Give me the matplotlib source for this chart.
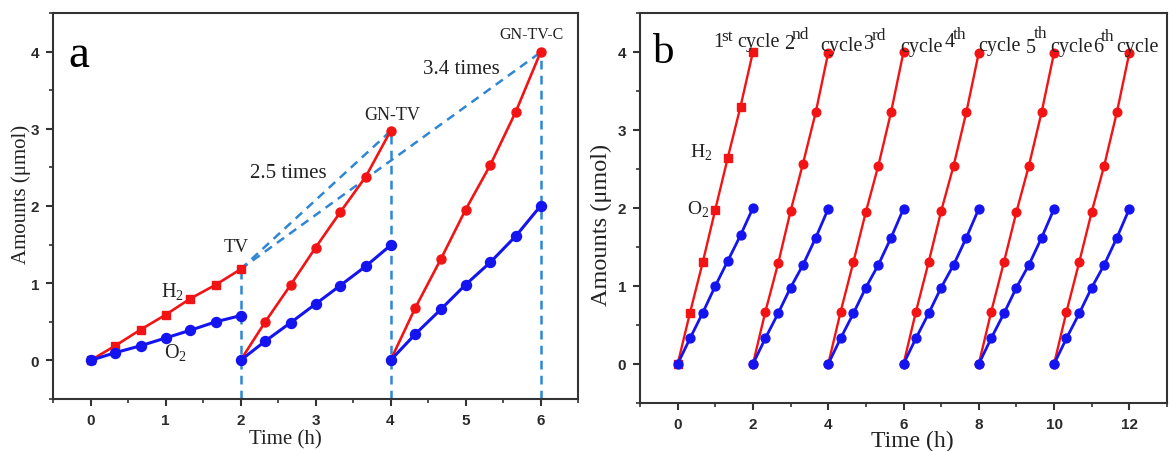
import matplotlib
matplotlib.use("Agg")
import matplotlib.pyplot as plt
from matplotlib.ticker import MultipleLocator

# ---------------- data ----------------
# Panel a
time_tv = [0.0, 0.33, 0.67, 1.0, 1.33, 1.67, 2.0]
h2_tv = [0.0, 0.19, 0.40, 0.59, 0.80, 0.98, 1.18]
o2_tv = [0.0, 0.10, 0.19, 0.29, 0.39, 0.50, 0.58]

time_gntv = [2.0, 2.33, 2.67, 3.0, 3.33, 3.67, 4.0]
h2_gntv = [0.0, 0.50, 0.98, 1.46, 1.92, 2.38, 2.97]
o2_gntv = [0.0, 0.25, 0.49, 0.73, 0.97, 1.22, 1.49]

time_gntvc = [4.0, 4.33, 4.67, 5.0, 5.33, 5.67, 6.0]
h2_gntvc = [0.0, 0.68, 1.31, 1.95, 2.53, 3.22, 3.99]
o2_gntvc = [0.0, 0.34, 0.66, 0.98, 1.27, 1.61, 2.0]

# Panel b
cycle_start = [0, 2, 4, 6, 8, 10]
cycle_time = [0.0, 0.33, 0.67, 1.0, 1.33, 1.67, 2.0]
h2_cycles = [
    [0.0, 0.66, 1.31, 1.98, 2.64, 3.30, 4.00],
    [0.0, 0.67, 1.29, 1.96, 2.57, 3.23, 3.99],
    [0.0, 0.67, 1.31, 1.95, 2.54, 3.23, 4.00],
    [0.0, 0.67, 1.31, 1.96, 2.54, 3.23, 3.99],
    [0.0, 0.67, 1.31, 1.95, 2.54, 3.23, 3.99],
    [0.0, 0.67, 1.31, 1.95, 2.54, 3.23, 3.99],
]
o2_cycles = [
    [0.0, 0.33, 0.66, 1.00, 1.32, 1.65, 2.00],
    [0.0, 0.33, 0.65, 0.98, 1.27, 1.62, 1.99],
    [0.0, 0.33, 0.65, 0.98, 1.27, 1.62, 1.99],
    [0.0, 0.33, 0.65, 0.98, 1.27, 1.62, 1.99],
    [0.0, 0.33, 0.65, 0.98, 1.27, 1.62, 1.99],
    [0.0, 0.33, 0.65, 0.98, 1.27, 1.62, 1.99],
]
cycle_numbers = ["1", "2", "3", "4", "5", "6"]
cycle_suffixes = ["st", "nd", "rd", "th", "th", "th"]

xticks_a = [0, 1, 2, 3, 4, 5, 6]
xticks_b = [0, 2, 4, 6, 8, 10, 12]
yticks = [0, 1, 2, 3, 4]

# ---------------- style ----------------
RED = "#f21414"
BLUE = "#1414f0"
DASH = "#2f86d2"
SPINE = "#333333"
SERIF = ["Liberation Serif", "DejaVu Serif"]
SANS = ["Liberation Sans", "DejaVu Sans"]

W, H = 1170, 452
fig = plt.figure(figsize=(W / 100, H / 100), dpi=100)


def ptext(x, y, s, **kw):
    kw.setdefault("family", SERIF)
    fig.text(x / W, 1 - y / H, s, **kw)


def style_axes(ax):
    for sp in ax.spines.values():
        sp.set_color(SPINE)
        sp.set_linewidth(1.5)
    ax.tick_params(which="major", direction="out", length=5, width=1.5,
                   color=SPINE, pad=5, top=False, right=False)
    ax.tick_params(which="minor", direction="out", length=3, width=1.2,
                   color=SPINE, top=False, right=False)
    for lab in ax.get_xticklabels() + ax.get_yticklabels():
        lab.set_family(SANS)
        lab.set_fontweight("bold")
        lab.set_fontsize(11)
        lab.set_color("#2a2a2a")


# ---------------- panel a ----------------
axa = fig.add_axes([53 / W, 1 - 400 / H, (578 - 53) / W, (400 - 14) / H])
axa.set_xlim(-0.5, 6.5)
axa.set_ylim(-0.5, 4.5)
axa.set_xticks(xticks_a)
axa.set_yticks(yticks)
axa.xaxis.set_minor_locator(MultipleLocator(0.5))
axa.yaxis.set_minor_locator(MultipleLocator(0.5))

dkw = dict(color=DASH, lw=1.8, ls=(0, (3.5, 2.5)), zorder=1)
# connecting dashed lines
axa.plot([time_tv[-1], time_gntv[-1]], [h2_tv[-1], h2_gntv[-1]], **dkw)
axa.plot([time_tv[-1], time_gntvc[-1]], [h2_tv[-1], h2_gntvc[-1]], **dkw)
for tt, hh in [(time_tv, h2_tv), (time_gntv, h2_gntv), (time_gntvc, h2_gntvc)]:
    axa.plot([tt[-1], tt[-1]], [-0.5, hh[-1]], **dkw)

axa.plot(time_tv, h2_tv, color=RED, lw=1.9, marker="s", ms=6, zorder=3)
axa.plot(time_gntv, h2_gntv, color=RED, lw=1.9, marker="o", ms=6.5, zorder=3)
axa.plot(time_gntvc, h2_gntvc, color=RED, lw=1.9, marker="o", ms=6.5, zorder=3)
for tt, oo in [(time_tv, o2_tv), (time_gntv, o2_gntv), (time_gntvc, o2_gntvc)]:
    axa.plot(tt, oo, color=BLUE, lw=2.2, marker="o", ms=7.2, zorder=4)
style_axes(axa)

ptext(79, 56, "a", fontsize=34, ha="center", va="center")
ptext(236, 248, "TV", fontsize=13.5, ha="center", va="center", color="#222")
ptext(172, 292, r"H$_\mathregular{2}$", fontsize=14.5, ha="center", va="center", color="#222")
ptext(175, 353, r"O$_\mathregular{2}$", fontsize=14.5, ha="center", va="center", color="#222")
ptext(392, 116, "GN-TV", fontsize=13, ha="center", va="center", color="#222")
ptext(288, 174, "2.5 times", fontsize=15, ha="center", va="center", color="#222")
ptext(461, 69, "3.4 times", fontsize=15, ha="center", va="center", color="#222")
ptext(532, 35, "GN-TV-C", fontsize=11.5, ha="center", va="center", color="#222")
ptext(21, 194, "Amounts (μmol)", fontsize=15, ha="center", va="center",
      rotation=90, color="#222")
ptext(285, 440, "Time (h)", fontsize=15, ha="center", va="center", color="#222")

# ---------------- panel b ----------------
axb = fig.add_axes([640 / W, 1 - 404 / H, (1167 - 640) / W, (404 - 14) / H])
axb.set_xlim(-1, 13)
axb.set_ylim(-0.5, 4.5)
axb.set_xticks(xticks_b)
axb.set_yticks(yticks)
axb.xaxis.set_minor_locator(MultipleLocator(1))
axb.yaxis.set_minor_locator(MultipleLocator(0.5))

for i, start in enumerate(cycle_start):
    tx = [start + t for t in cycle_time]
    axb.plot(tx, h2_cycles[i], color=RED, lw=1.7,
             marker="s" if i == 0 else "o", ms=5.4 if i == 0 else 6.2,
             zorder=3)
    axb.plot(tx, o2_cycles[i], color=BLUE, lw=2.0, marker="o", ms=6.4, zorder=4)
style_axes(axb)

ptext(664, 53, "b", fontsize=31, ha="center", va="center")
ptext(701, 153, r"H$_\mathregular{2}$", fontsize=14, ha="center", va="center", color="#222")
ptext(698, 210, r"O$_\mathregular{2}$", fontsize=14, ha="center", va="center", color="#222")
ptext(601, 225, "Amounts (μmol)", fontsize=17.5, ha="center", va="center",
      rotation=90, color="#222")
ptext(912, 441, "Time (h)", fontsize=17, ha="center", va="center", color="#222")

# cycle labels (number, superscript, "cycle")
num_pos = [(713, 47), (784, 49), (864, 49), (945, 47), (1026, 53), (1093, 52)]
sup_pos = [(721, 41), (792, 39), (872, 40), (953, 39), (1034, 38), (1101, 41)]
cyc_pos = [(737, 47), (820, 51), (900, 52), (978, 51), (1050, 52), (1116, 52)]
for i in range(6):
    ptext(num_pos[i][0], num_pos[i][1], cycle_numbers[i], fontsize=14.5,
          ha="left", va="baseline", color="#222")
    ptext(sup_pos[i][0], sup_pos[i][1], cycle_suffixes[i], fontsize=12.5,
          ha="left", va="baseline", color="#222")
    ptext(cyc_pos[i][0], cyc_pos[i][1], "cycle", fontsize=14.5,
          ha="left", va="baseline", color="#222")

fig.savefig("out.png", dpi=100)
